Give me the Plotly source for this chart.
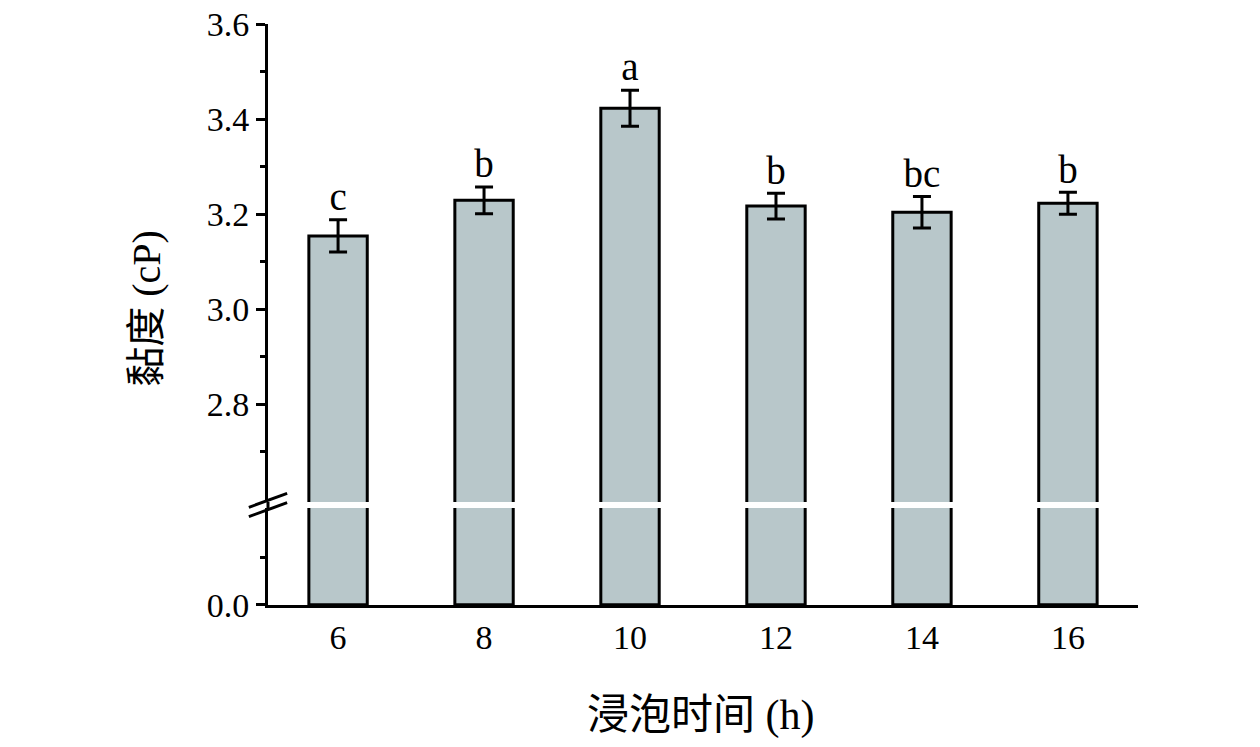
import plotly.graph_objects as go
from plotly.subplots import make_subplots

hours = ['6', '8', '10', '12', '14', '16']
viscosity = [3.154, 3.229, 3.423, 3.217, 3.204, 3.223]
errors = [0.034, 0.028, 0.038, 0.027, 0.033, 0.023]
letters = ['c', 'b', 'a', 'b', 'bc', 'b']

BAR = '#B8C7CA'
FONT = 'Liberation Serif, Times New Roman, Noto Sans CJK SC, serif'

# plot area in pixels: top 24, bottom 605, total 581
H_PLOT = 581
px_per_unit = 475 / 1.0
top_bottom_px = 502
low_top_px = 508
top_domain = [(605 - top_bottom_px) / H_PLOT, 1]
low_domain = [0, (605 - low_top_px) / H_PLOT]
top_range = [3.6 - (top_bottom_px - 24) / px_per_unit, 3.6005]
low_range = [-0.0005, (605 - low_top_px) / px_per_unit]

fig = make_subplots(rows=2, cols=1, shared_xaxes=True, vertical_spacing=0,
                    row_heights=[0.8, 0.2])

fig.add_trace(go.Bar(
    x=hours, y=viscosity,
    error_y=dict(type='data', array=errors, color='black', thickness=3, width=9),
    marker=dict(color=BAR, line=dict(color='black', width=3)),
    width=0.4, showlegend=False), row=1, col=1)

fig.add_trace(go.Bar(
    x=hours, y=viscosity,
    marker=dict(color=BAR, line=dict(color='black', width=3)),
    width=0.4, showlegend=False), row=2, col=1)

# significance letters above the error bars
fig.add_trace(go.Scatter(
    x=hours, y=[v + e for v, e in zip(viscosity, errors)],
    mode='text', text=letters, textposition='top center',
    textfont=dict(family=FONT, size=39, color='black'),
    cliponaxis=False, showlegend=False, hoverinfo='skip'), row=1, col=1)

axis_font = dict(family=FONT, size=34, color='black')

fig.update_yaxes(row=1, col=1, domain=top_domain, range=top_range,
                 tickvals=[2.8, 3.0, 3.2, 3.4, 3.6], ticktext=['2.8', '3.0', '3.2', '3.4', '3.6'],
                 ticks='outside', ticklen=9, tickwidth=3, tickcolor='black',
                 minor=dict(tickvals=[2.7, 2.9, 3.1, 3.3, 3.5], ticks='outside', ticklen=5,
                            tickwidth=3, tickcolor='black'),
                 showline=True, linewidth=3, linecolor='black', showgrid=False,
                 zeroline=False, tickfont=axis_font, ticklabeloverflow='allow',
                 automargin=False)
fig.update_yaxes(row=2, col=1, domain=low_domain, range=low_range,
                 tickvals=[0.0], ticktext=['0.0'],
                 ticks='outside', ticklen=9, tickwidth=3, tickcolor='black',
                 minor=dict(tickvals=[0.1], ticks='outside', ticklen=5,
                            tickwidth=3, tickcolor='black'),
                 showline=True, linewidth=3, linecolor='black', showgrid=False,
                 zeroline=False, tickfont=axis_font, ticklabeloverflow='allow',
                 automargin=False)
fig.update_xaxes(type='category', range=[-0.48, 5.48], showgrid=False, ticks='',
                 automargin=False)
fig.update_xaxes(row=1, col=1, showline=False, showticklabels=False)
fig.update_xaxes(row=2, col=1, showline=True, linewidth=3, linecolor='black',
                 tickfont=axis_font)

# axis line across the break and the break marks
yb = (605 - 505) / H_PLOT
fig.add_shape(type='line', xref='paper', yref='paper', x0=0, x1=0,
              y0=low_domain[1], y1=top_domain[0], line=dict(color='black', width=3))
for dy in (-0.008, 0.008):
    fig.add_shape(type='line', xref='paper', yref='paper',
                  x0=-0.022, x1=0.022, y0=yb + dy - 0.012, y1=yb + dy + 0.012,
                  line=dict(color='black', width=3))

fig.add_annotation(xref='paper', yref='paper', x=-0.139, y=0.51, text='黏度 (cP)',
                   textangle=-90, showarrow=False, xanchor='center', yanchor='middle',
                   font=dict(family=FONT, size=40, color='black'))
fig.add_annotation(xref='paper', yref='paper', x=0.497, y=-0.191, text='浸泡时间 (h)',
                   showarrow=False, xanchor='center', yanchor='middle',
                   font=dict(family=FONT, size=42, color='black'))

fig.update_layout(
    width=1260, height=747,
    paper_bgcolor='white', plot_bgcolor='white',
    margin=dict(l=268, r=122, t=24, b=142, autoexpand=False),
)

fig.write_html("out.html", config={'displayModeBar': False},
               post_script="document.body.style.margin = '0';")
